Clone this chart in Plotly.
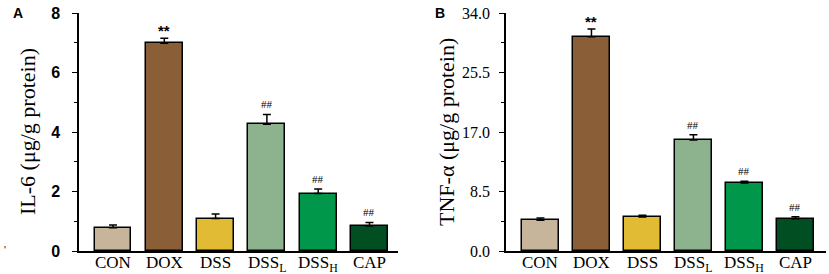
import plotly.graph_objects as go

categories = ["CON", "DOX", "DSS", "DSS<sub>L</sub>", "DSS<sub>H</sub>", "CAP"]
colors = ["#C6B49B", "#8A5E36", "#E2BB34", "#8CB38E", "#00974A", "#004E22"]

il6_values = [0.78, 6.98, 1.09, 4.26, 1.93, 0.84]
il6_errors = [0.09, 0.17, 0.15, 0.33, 0.15, 0.12]
il6_marks = ["", "**", "", "##", "##", "##"]

tnf_values = [4.4, 30.6, 4.85, 15.85, 9.7, 4.6]
tnf_errors = [0.3, 1.1, 0.25, 0.75, 0.25, 0.3]
tnf_marks = ["", "**", "", "##", "##", "##"]

il6_ticks = [0, 2, 4, 6, 8]
tnf_ticks = [0.0, 8.5, 17.0, 25.5, 34.0]

W, H = 829, 274
xs = list(range(len(categories)))

fig = go.Figure()

fig.add_trace(go.Bar(
    x=xs, y=il6_values, width=0.72, xaxis="x", yaxis="y",
    marker=dict(color=colors, line=dict(color="black", width=1.5)),
    error_y=dict(type="data", array=il6_errors, arrayminus=[0]*6, symmetric=False,
                 color="black", thickness=1.5, width=4),
    showlegend=False,
))
fig.add_trace(go.Bar(
    x=xs, y=tnf_values, width=0.725, xaxis="x2", yaxis="y2",
    marker=dict(color=colors, line=dict(color="black", width=1.5)),
    error_y=dict(type="data", array=tnf_errors, arrayminus=[0]*6, symmetric=False,
                 color="black", thickness=1.5, width=4),
    showlegend=False,
))

y0 = 1 - 251 / H
y1 = 1 - 13 / H

common_x = dict(showline=True, linecolor="black", linewidth=1.5, ticks="",
                tickvals=xs, showticklabels=False, showgrid=False, zeroline=False,
                automargin=False)
common_y = dict(showline=True, linecolor="black", linewidth=1.5, ticks="outside",
                ticklen=5, tickwidth=1.3, tickcolor="black", showgrid=False, zeroline=False,
                automargin=False)

fig.update_layout(
    template="none",
    width=W, height=H, margin=dict(l=0, r=0, t=0, b=0, pad=0),
    plot_bgcolor="white", paper_bgcolor="white", bargap=0,
    xaxis=dict(domain=[79 / W, 398 / W], range=[-0.663, 5.556], anchor="y", **common_x),
    xaxis2=dict(domain=[506 / W, 826 / W], range=[-0.676, 5.6], anchor="y2", **common_x),
    yaxis=dict(domain=[y0, y1], range=[0, 8], anchor="x", tickvals=il6_ticks,
               ticktext=[str(t) for t in il6_ticks], ticklabelstandoff=9,
               tickfont=dict(family="Liberation Sans", size=16, color="black", weight="bold"),
               minor=dict(ticks="outside", ticklen=3, dtick=1, tickcolor="black", tickwidth=1.2),
               **common_y),
    yaxis2=dict(domain=[y0, y1], range=[0, 34], anchor="x2", tickvals=tnf_ticks,
                ticktext=[f"{t:.1f}" for t in tnf_ticks], ticklabelstandoff=6,
                tickfont=dict(family="Liberation Serif", size=16, color="black"),
                minor=dict(ticks="outside", ticklen=3, tickvals=[4.25, 12.75, 21.25, 29.75],
                           tickcolor="black", tickwidth=1.2),
                **common_y),
)

ann = []


def add_marks(values, errors, marks, xr, yr):
    for i, (v, e, m) in enumerate(zip(values, errors, marks)):
        if not m:
            continue
        big = m == "**"
        ann.append(dict(x=i, y=v + e, xref=xr, yref=yr, text=f"<b>{m}</b>" if big else m,
                        showarrow=False, yanchor="bottom", yshift=-3 if big else 2,
                        font=dict(family="Liberation Sans" if big else "Liberation Serif",
                                  size=15 if big else 11, color="black")))


add_marks(il6_values, il6_errors, il6_marks, "x", "y")
add_marks(tnf_values, tnf_errors, tnf_marks, "x2", "y2")

# category labels under each panel
for xr in ["x", "x2"]:
    for i, c in enumerate(categories):
        ann.append(dict(x=i, y=1 - 252 / H, xref=xr, yref="paper", text=c,
                        showarrow=False, yanchor="top", xanchor="center", borderpad=0,
                        font=dict(family="Liberation Serif", size=17, color="black")))

ann.append(dict(x=27 / W, y=1 - 132 / H, xref="paper", yref="paper", text="IL-6 (μg/g protein)",
                textangle=-90, showarrow=False, xanchor="center", yanchor="middle",
                font=dict(family="Liberation Serif", size=22, color="black")))
ann.append(dict(x=446 / W, y=1 - 132 / H, xref="paper", yref="paper", text="TNF-α (μg/g protein)",
                textangle=-90, showarrow=False, xanchor="center", yanchor="middle",
                font=dict(family="Liberation Serif", size=22, color="black")))
ann.append(dict(x=17.5 / W, y=1 - 12.5 / H, xref="paper", yref="paper", text="<b>A</b>",
                showarrow=False, xanchor="center", yanchor="middle",
                font=dict(family="Liberation Sans", size=14, color="black")))
ann.append(dict(x=440 / W, y=1 - 12.5 / H, xref="paper", yref="paper", text="<b>B</b>",
                showarrow=False, xanchor="center", yanchor="middle",
                font=dict(family="Liberation Sans", size=14, color="black")))
ann.append(dict(x=5 / W, y=1 - 250 / H, xref="paper", yref="paper", text="'",
                showarrow=False, xanchor="center", yanchor="middle",
                font=dict(family="Liberation Sans", size=10, color="black")))
fig.update_layout(annotations=ann)

fig.write_html(
    "out.html",
    config={"displayModeBar": False},
    post_script="document.body.style.margin='0';document.body.style.padding='0';"
                "document.documentElement.style.margin='0';document.body.style.overflow='hidden';",
)
